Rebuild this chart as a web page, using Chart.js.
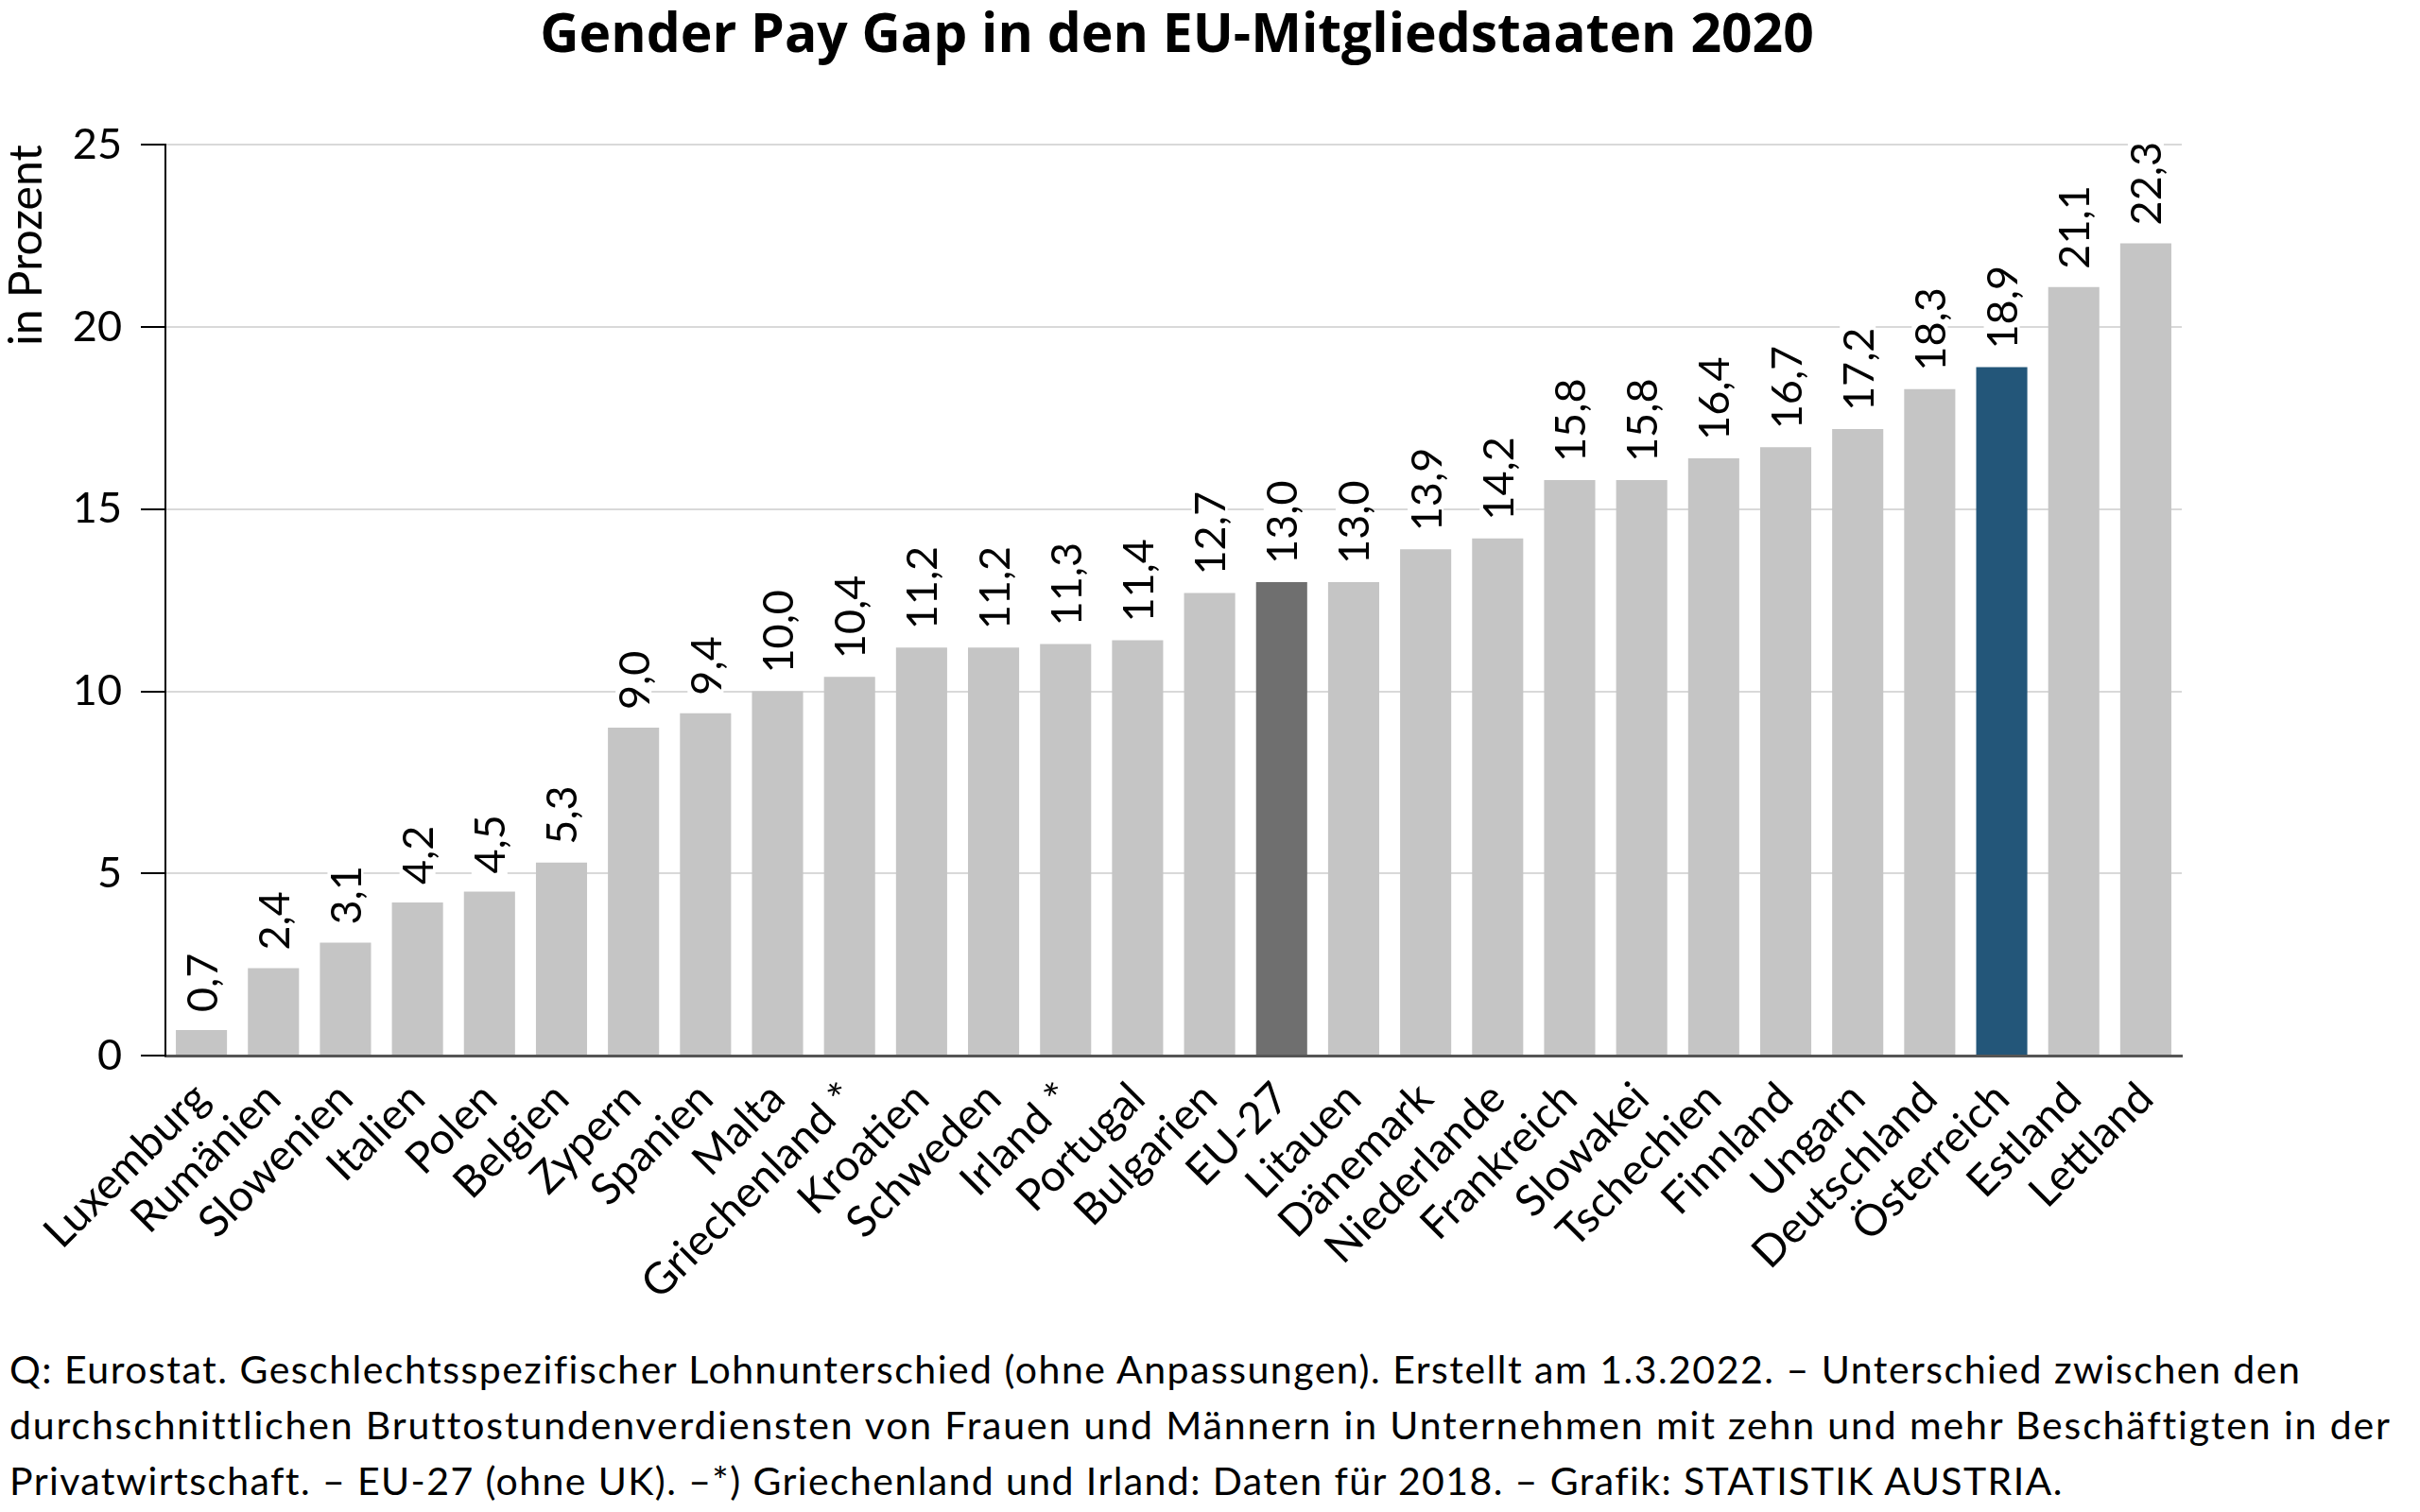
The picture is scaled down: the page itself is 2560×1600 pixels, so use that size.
<!DOCTYPE html>
<html lang="de">
<head>
<meta charset="utf-8">
<title>Gender Pay Gap in den EU-Mitgliedstaaten 2020</title>
<script src="https://cdn.jsdelivr.net/npm/chart.js@4.4.1/dist/chart.umd.min.js"></script>
<style>
    html, body { margin: 0; padding: 0; background: #fff; }
    #wrap { position: absolute; left: 0; top: 0; width: 2490px; height: 1400px; }
    #quelle {
        position: absolute; left: 10px; top: 1419px;
        font-family: Lato, sans-serif; font-size: 41px; line-height: 59px; color: #000;
    }
    #quelle div { white-space: nowrap; }
</style>
</head>
<body>
<div id="wrap"><canvas id="gap-chart"></canvas></div>
<div id="quelle">
    <div style="letter-spacing:1.5px">Q: Eurostat. Geschlechtsspezifischer Lohnunterschied (ohne Anpassungen). Erstellt am 1.3.2022. – Unterschied zwischen den</div>
    <div style="letter-spacing:1.85px">durchschnittlichen Bruttostundenverdiensten von Frauen und Männern in Unternehmen mit zehn und mehr Beschäftigten in der</div>
    <div style="letter-spacing:1.4px">Privatwirtschaft. – EU-27 (ohne UK). –*) Griechenland und Irland: Daten für 2018. – Grafik: STATISTIK AUSTRIA.</div>
</div>
<script>
// --- DONNÉES ---
const laender = ['Luxemburg', 'Rumänien', 'Slowenien', 'Italien', 'Polen', 'Belgien', 'Zypern', 'Spanien',
    'Malta', 'Griechenland *', 'Kroatien', 'Schweden', 'Irland *', 'Portugal', 'Bulgarien', 'EU-27',
    'Litauen', 'Dänemark', 'Niederlande', 'Frankreich', 'Slowakei', 'Tschechien', 'Finnland', 'Ungarn',
    'Deutschland', 'Österreich', 'Estland', 'Lettland'];
const gapWerte = [0.7, 2.4, 3.1, 4.2, 4.5, 5.3, 9.0, 9.4, 10.0, 10.4, 11.2, 11.2, 11.3, 11.4, 12.7, 13.0,
    13.0, 13.9, 14.2, 15.8, 15.8, 16.4, 16.7, 17.2, 18.3, 18.9, 21.1, 22.3];
const yTicks = [0, 5, 10, 15, 20, 25];

// --- STYLES ---
const FONT = 'Lato';
const GRAU = '#c5c5c5';
const EU_GRAU = '#6f6f6f';
const AT_BLAU = '#235679';

const barColors = laender.map(l => l === 'EU-27' ? EU_GRAU : (l === 'Österreich' ? AT_BLAU : GRAU));

// étiquettes verticales au-dessus des barres, avec fond blanc
const valueLabels = {
    id: 'valueLabels',
    afterDatasetsDraw(chart) {
        const ctx = chart.ctx;
        const meta = chart.getDatasetMeta(0);
        ctx.save();
        ctx.font = '45px ' + FONT;
        meta.data.forEach((bar, i) => {
            const text = gapWerte[i].toFixed(1).replace('.', ',');
            const w = ctx.measureText(text).width;
            ctx.save();
            ctx.translate(bar.x, bar.y - 19);
            ctx.rotate(-Math.PI / 2);
            ctx.fillStyle = '#fff';
            ctx.fillRect(-3, -19, w + 6, 38);
            ctx.fillStyle = '#000';
            ctx.textAlign = 'left';
            ctx.textBaseline = 'middle';
            ctx.fillText(text, 0, 2);
            ctx.restore();
        });
        ctx.restore();
    }
};

const ctx = document.getElementById('gap-chart').getContext('2d');
new Chart(ctx, {
    type: 'bar',
    data: {
        labels: laender,
        datasets: [{
            data: gapWerte,
            backgroundColor: barColors,
            borderWidth: 0,
            categoryPercentage: 1,
            barPercentage: 0.71
        }]
    },
    options: {
        responsive: true,
        maintainAspectRatio: false,
        animation: false,
        devicePixelRatio: 1,
        layout: { padding: 0 },
        plugins: {
            legend: { display: false },
            tooltip: { enabled: false },
            title: {
                display: true,
                text: 'Gender Pay Gap in den EU-Mitgliedstaaten 2020',
                color: '#000',
                font: { family: '"Open Sans"', size: 57, weight: 'bold' },
                padding: { top: 5, bottom: 80 }
            }
        },
        scales: {
            x: {
                grid: { display: false, drawTicks: false },
                border: { color: '#555', width: 3 },
                ticks: {
                    color: '#000',
                    font: { family: FONT, size: 46 },
                    minRotation: 45,
                    maxRotation: 45,
                    autoSkip: false,
                    padding: 18
                },
                afterFit(s) { s.height = 1400 - 1117; }
            },
            y: {
                min: 0,
                max: 25,
                afterBuildTicks(s) { s.ticks = yTicks.map(v => ({ value: v })); },
                ticks: { color: '#000', font: { family: FONT, size: 45 }, padding: 20 },
                grid: { color: '#d9d9d9', lineWidth: 2, tickColor: '#000', tickLength: 26, tickWidth: 2 },
                border: { color: '#000', width: 2 },
                title: {
                    display: true,
                    text: 'in Prozent',
                    align: 'end',
                    color: '#000',
                    font: { family: FONT, size: 48 },
                    padding: 0
                },
                afterFit(s) { s.width = 175; }
            },
            // axe fantôme à droite pour réserver la marge
            y2: {
                position: 'right',
                display: true,
                grid: { display: false },
                border: { display: false },
                ticks: { display: false },
                afterFit(s) { s.width = 2490 - 2308; }
            }
        }
    },
    plugins: [valueLabels]
});
</script>
</body>
</html>
